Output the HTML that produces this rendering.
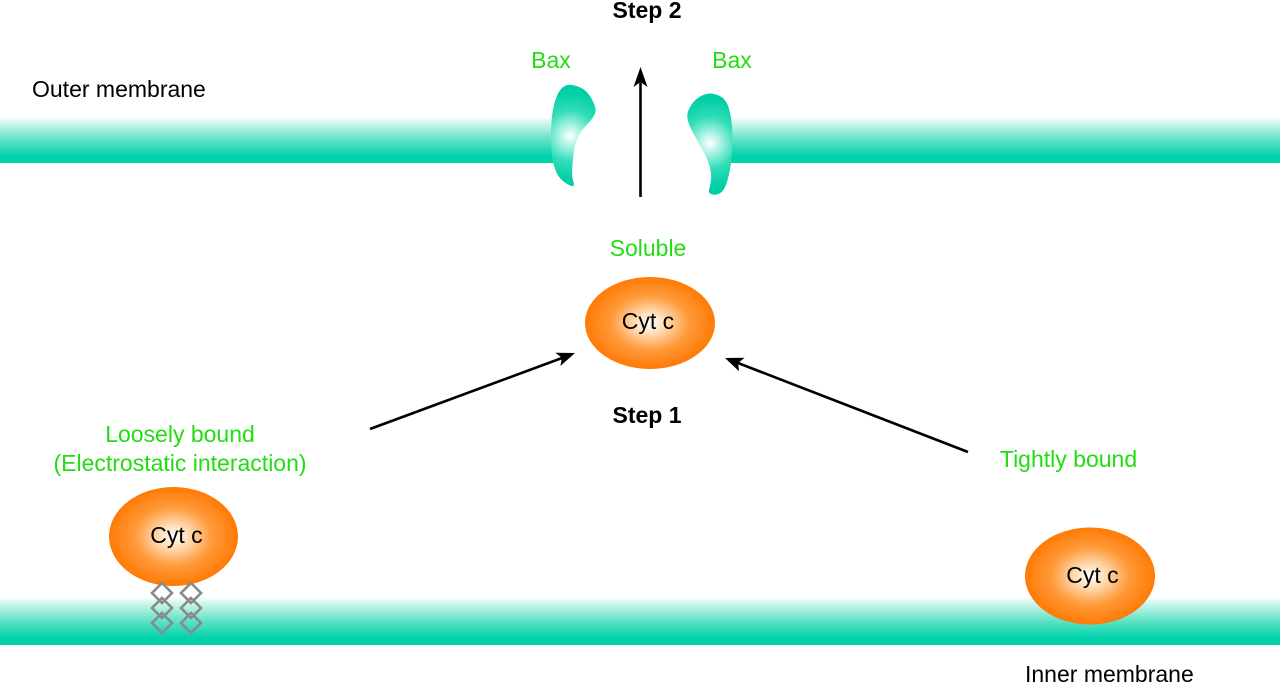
<!DOCTYPE html>
<html><head><meta charset="utf-8"><style>
html,body{margin:0;padding:0;background:#fff;}
svg{display:block;}
text{font-family:"Liberation Sans",Arial,sans-serif;font-size:23px;}
</style></head><body>
<svg width="1280" height="683" viewBox="0 0 1280 683" xmlns="http://www.w3.org/2000/svg">
<defs>
<linearGradient id="mem" x1="0" y1="0" x2="0" y2="1">
<stop offset="0" stop-color="#ffffff"/>
<stop offset="0.12" stop-color="#d2f7ee"/>
<stop offset="0.5" stop-color="#5fe2c7"/>
<stop offset="0.85" stop-color="#00d3aa"/>
<stop offset="1" stop-color="#00d1a8"/>
</linearGradient>
<radialGradient id="org" cx="0.5" cy="0.5" r="0.5">
<stop offset="0" stop-color="#ffffff"/>
<stop offset="0.25" stop-color="#ffd9b0"/>
<stop offset="0.6" stop-color="#ff9a3a"/>
<stop offset="1" stop-color="#ff7a05"/>
</radialGradient>
<radialGradient id="baxL" gradientUnits="userSpaceOnUse" cx="570" cy="136" r="44">
<stop offset="0" stop-color="#ffffff"/>
<stop offset="0.2" stop-color="#b8f5e8"/>
<stop offset="0.6" stop-color="#2fdcb8"/>
<stop offset="1" stop-color="#00cfa6"/>
</radialGradient>
<radialGradient id="baxR" gradientUnits="userSpaceOnUse" cx="710" cy="143" r="44">
<stop offset="0" stop-color="#ffffff"/>
<stop offset="0.2" stop-color="#b8f5e8"/>
<stop offset="0.6" stop-color="#2fdcb8"/>
<stop offset="1" stop-color="#00cfa6"/>
</radialGradient>
</defs>

<!-- outer membrane -->
<rect x="0" y="117" width="560" height="46" fill="url(#mem)"/>
<rect x="725" y="117" width="555" height="46" fill="url(#mem)"/>
<!-- inner membrane -->
<rect x="0" y="597" width="1280" height="48" fill="url(#mem)"/>

<!-- Bax left -->
<path d="M567.4,85 Q571.7,84 579.2,87 Q586.7,90 590.9,97.5 Q595,105 595.5,109 Q596,113 593,117.4 Q590,121.7 585.9,125.9 Q581.7,130 578.4,136.5 Q575,143 573.9,151.5 Q572.7,160 572.2,168.4 Q571.7,176.7 573.4,181.9 Q575,187 571.5,186 Q568,185 563,181 Q558,177 555.4,170 Q552.7,163 551.7,153 Q550.7,143 551.2,128 Q551.7,113 554.2,104 Q556.7,95 559.9,90.5 Q563,86 567.4,85 Z" fill="url(#baxL)"/>
<!-- Bax right -->
<path d="M706.7,93.9 Q711.7,92.7 718.4,95.4 Q725,98 727.9,105.5 Q730.7,113 731.7,123 Q732.7,133 732.2,146.5 Q731.7,160 729.9,170 Q728,180 725.5,186 Q723,192 719,193.8 Q715,195.5 711.5,194.3 Q708,193 709,190 Q710,187 710.9,180 Q711.7,173 709.2,165 Q706.7,157 701.7,148.5 Q696.7,140 692.4,131.5 Q688,123 687.4,118 Q686.7,113 689.9,107.4 Q693,101.7 697.4,98.4 Q701.7,95 706.7,93.9 Z" fill="url(#baxR)"/>

<!-- ellipses -->
<ellipse cx="650" cy="323" rx="65" ry="46" fill="url(#org)"/>
<ellipse cx="173.5" cy="536.5" rx="64.5" ry="49.5" fill="url(#org)"/>
<ellipse cx="1090" cy="576" rx="65" ry="48.5" fill="url(#org)"/>

<!-- diamonds -->
<g fill="none" stroke="#8a8a8a" stroke-width="2.6">
<path d="M162,583 L172,593 L162,603 L152,593 Z"/>
<path d="M162,598 L172,608 L162,618 L152,608 Z"/>
<path d="M162,613 L172,623 L162,633 L152,623 Z"/>
<path d="M191,583 L201,593 L191,603 L181,593 Z"/>
<path d="M191,598 L201,608 L191,618 L181,608 Z"/>
<path d="M191,613 L201,623 L191,633 L181,623 Z"/>
</g>

<!-- arrows -->
<g stroke="#000" stroke-width="2.6" fill="none">
<line x1="640.5" y1="197" x2="640.5" y2="82"/>
<line x1="370" y1="429" x2="562" y2="358"/>
<line x1="968" y1="452" x2="738" y2="363"/>
</g>
<g fill="#000">
<polygon points="640.5,67 647.5,87 640.5,82 633.5,87"/>
<polygon points="575,353 560.4,366 561.9,357.9 555.4,352.8"/>
<polygon points="725,358 744.6,357.8 738.1,363.1 739.0,371.2"/>
</g>

<!-- text -->
<g fill="#000">
<text x="647" y="18" text-anchor="middle" font-weight="bold">Step 2</text>
<text x="32" y="97">Outer membrane</text>
<text x="648" y="329" text-anchor="middle">Cyt c</text>
<text x="647" y="423" text-anchor="middle" font-weight="bold">Step 1</text>
<text x="176.5" y="543" text-anchor="middle">Cyt c</text>
<text x="1092.5" y="583" text-anchor="middle">Cyt c</text>
<text x="1025" y="682">Inner membrane</text>
</g>
<g fill="#22dd11">
<text x="551" y="68" text-anchor="middle">Bax</text>
<text x="732" y="68" text-anchor="middle">Bax</text>
<text x="648" y="256" text-anchor="middle">Soluble</text>
<text x="180" y="442" text-anchor="middle">Loosely bound</text>
<text x="180" y="471" text-anchor="middle">(Electrostatic interaction)</text>
<text x="1068.5" y="467" text-anchor="middle">Tightly bound</text>
</g>
</svg>
</body></html>
